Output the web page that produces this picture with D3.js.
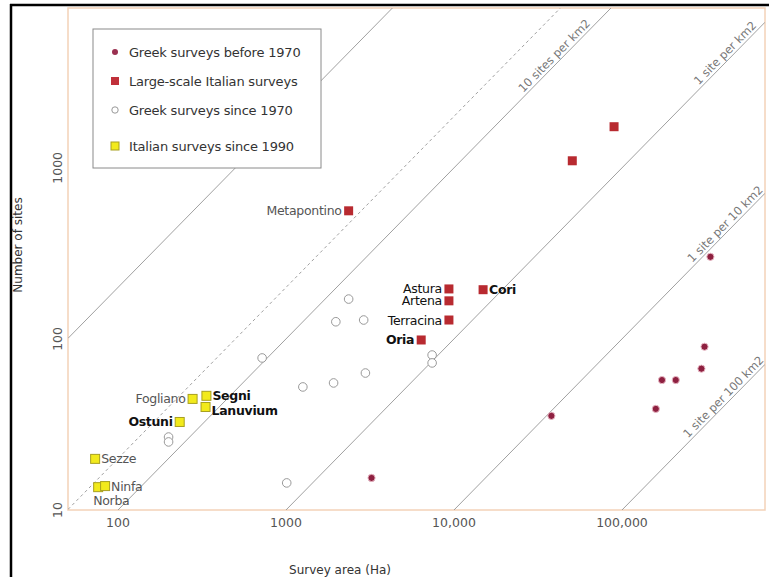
<!DOCTYPE html>
<html lang="en">
<head>
  <meta charset="UTF-8">
  <script src="https://d3js.org/d3.v7.min.js"></script>
  <title>Survey area vs number of sites</title>
  <style>
    body { margin: 0; background: #fff; }
    svg text { font-family: "DejaVu Sans", sans-serif; }
  </style>
</head>
<body>

  <svg id="chart" width="769" height="577"></svg>

  <script>

    // Survey area (Ha) and number of sites
    var greekOldArea  = [336000, 310000, 297000, 173000, 209000, 159000, 38000, 3230];
    var greekOldSites = [302, 90, 67, 57.5, 57.5, 39, 35.5, 15.4];

    var italianLargeNames = ["Metapontino", "Astura", "Artena", "Terracina", "Oria", "Cori", "", ""];
    var italianLargeArea  = [2360, 9330, 9330, 9330, 6380, 14900, 50600, 89700];
    var italianLargeSites = [561, 196, 167, 129, 98.6, 194, 1100, 1740];

    var greekNewArea  = [2360, 1980, 2900, 721, 7410, 7410, 2970, 1260, 1920, 200, 200, 1010];
    var greekNewSites = [171, 126, 129, 77.4, 80.5, 72.4, 63.2, 52.4, 55.3, 26.7, 25, 14.4];

    var italianNewNames = ["Fogliano", "Segni", "Lanuvium", "Ostuni", "Sezze", "Norba", "Ninfa"];
    var italianNewArea  = [278, 336, 332, 233, 73.1, 76.2, 83.8];
    var italianNewSites = [44.6, 46.5, 40, 32.7, 19.9, 13.6, 13.8];

    var xTicks = [100, 1000, 10000, 100000];
    var xTickLabels = ["100", "1000", "10,000", "100,000"];
    var yTicks = [10, 100, 1000];
    var yTickLabels = ["10", "100", "1000"];

    // reference densities in sites per hectare
    var densityRatio  = [2, 0.2, 0.1, 0.01, 0.001, 0.0001];
    var densityLabel  = ["", "", "10 sites per km2", "1 site per km2", "1 site per 10 km2", "1 site per 100 km2"];
    var densityDashed = [false, true, false, false, false, false];
    var densityLabelArea = [0, 0, 42300, 440000, 440000, 430000];

    var legendLabels = ["Greek surveys before 1970", "Large-scale Italian surveys",
                        "Greek surveys since 1970", "Italian surveys since 1990"];

    // how each place name sits next to its marker
    var labelStyle = {
      "Metapontino": {side: "left",  bold: false, color: "#555"},
      "Astura":      {side: "left",  bold: false, color: "#111"},
      "Artena":      {side: "left",  bold: false, color: "#111"},
      "Terracina":   {side: "left",  bold: false, color: "#111"},
      "Oria":        {side: "left",  bold: true,  color: "#111"},
      "Cori":        {side: "right", bold: true,  color: "#111"},
      "Fogliano":    {side: "left",  bold: false, color: "#555"},
      "Segni":       {side: "right", bold: true,  color: "#111"},
      "Lanuvium":    {side: "right", bold: true,  color: "#111", dy: 3},
      "Ostuni":      {side: "left",  bold: true,  color: "#111"},
      "Sezze":       {side: "right", bold: false, color: "#555"},
      "Ninfa":       {side: "right", bold: false, color: "#555"},
      "Norba":       {side: "below", bold: false, color: "#555"}
    };

    var svg = d3.select("#chart");
    var plot = {left: 68, right: 765, top: 8, bottom: 510};

    var x = d3.scaleLog().domain([50.4, 710000]).range([plot.left, plot.right]);
    var y = d3.scaleLog().domain([10, 8600]).range([plot.bottom, plot.top]);

    // black frame (top and left only)
    svg.append("line").attr("x1", 10).attr("x2", 769).attr("y1", 5).attr("y2", 5)
      .attr("stroke", "#000").attr("stroke-width", 2.5);
    svg.append("line").attr("x1", 11).attr("x2", 11).attr("y1", 4).attr("y2", 577)
      .attr("stroke", "#000").attr("stroke-width", 2.5);

    // plot area border
    svg.append("rect")
      .attr("x", plot.left).attr("y", plot.top)
      .attr("width", plot.right - plot.left).attr("height", plot.bottom - plot.top)
      .attr("fill", "#fff").attr("stroke", "#f3d2b8").attr("stroke-width", 1.5);

    svg.append("clipPath").attr("id", "clip")
      .append("rect")
      .attr("x", plot.left).attr("y", plot.top)
      .attr("width", plot.right - plot.left).attr("height", plot.bottom - plot.top);

    // density lines
    var lines = svg.append("g").attr("clip-path", "url(#clip)");
    densityRatio.forEach(function(r, i) {
      var a0 = x.domain()[0], a1 = x.domain()[1];
      lines.append("line")
        .attr("x1", x(a0)).attr("y1", y(a0 * r))
        .attr("x2", x(a1)).attr("y2", y(a1 * r))
        .attr("stroke", "#a0a0a0").attr("stroke-width", 1)
        .attr("stroke-dasharray", densityDashed[i] ? "3,3" : null);
    });

    var angle = Math.atan2(y(10) - y(1), x(10) - x(1)) * 180 / Math.PI;
    densityLabel.forEach(function(t, i) {
      if (!t) return;
      var a = densityLabelArea[i];
      svg.append("text")
        .attr("transform", "translate(" + x(a) + "," + y(a * densityRatio[i]) + ") rotate(" + angle + ")")
        .attr("dy", -3)
        .attr("text-anchor", "middle")
        .attr("font-size", 11.5)
        .attr("fill", "#777")
        .text(t);
    });

    // axis tick labels
    svg.append("g").selectAll("text")
      .data(xTicks).enter().append("text")
        .attr("x", function(d) { return x(d); })
        .attr("y", 527)
        .attr("text-anchor", "middle")
        .attr("font-size", 12.5)
        .attr("fill", "#555")
        .text(function(d, i) { return xTickLabels[i]; });

    svg.append("g").selectAll("text")
      .data(yTicks).enter().append("text")
        .attr("transform", function(d) { return "translate(62," + y(d) + ") rotate(-90)"; })
        .attr("text-anchor", "middle")
        .attr("font-size", 12.5)
        .attr("fill", "#555")
        .text(function(d, i) { return yTickLabels[i]; });

    svg.append("text")
      .attr("x", 340).attr("y", 574)
      .attr("text-anchor", "middle")
      .attr("font-size", 12)
      .attr("fill", "#333")
      .text("Survey area (Ha)");

    svg.append("text")
      .attr("transform", "translate(22,245) rotate(-90)")
      .attr("text-anchor", "middle")
      .attr("font-size", 12)
      .attr("fill", "#333")
      .text("Number of sites");

    // markers
    var marks = svg.append("g");

    marks.selectAll(".greek-new")
      .data(d3.range(greekNewArea.length)).enter().append("circle")
        .attr("class", "greek-new")
        .attr("cx", function(i) { return x(greekNewArea[i]); })
        .attr("cy", function(i) { return y(greekNewSites[i]); })
        .attr("r", 4.3)
        .attr("fill", "#fff").attr("stroke", "#999").attr("stroke-width", 1);

    marks.selectAll(".greek-old")
      .data(d3.range(greekOldArea.length)).enter().append("circle")
        .attr("class", "greek-old")
        .attr("cx", function(i) { return x(greekOldArea[i]); })
        .attr("cy", function(i) { return y(greekOldSites[i]); })
        .attr("r", 3.6)
        .attr("fill", "#8e2040").attr("stroke", "#e8b8c4").attr("stroke-width", 1);

    var sq = 9;
    marks.selectAll(".ital-large")
      .data(d3.range(italianLargeArea.length)).enter().append("rect")
        .attr("class", "ital-large")
        .attr("x", function(i) { return x(italianLargeArea[i]) - sq / 2; })
        .attr("y", function(i) { return y(italianLargeSites[i]) - sq / 2; })
        .attr("width", sq).attr("height", sq)
        .attr("fill", "#b82a30");

    marks.selectAll(".ital-new")
      .data(d3.range(italianNewArea.length)).enter().append("rect")
        .attr("class", "ital-new")
        .attr("x", function(i) { return x(italianNewArea[i]) - sq / 2; })
        .attr("y", function(i) { return y(italianNewSites[i]) - sq / 2; })
        .attr("width", sq).attr("height", sq)
        .attr("fill", "#f2ea1c").attr("stroke", "#a8a020").attr("stroke-width", 1);

    // place names
    function addLabels(names, areas, sites) {
      names.forEach(function(n, i) {
        if (!n) return;
        var s = labelStyle[n];
        var px = x(areas[i]), py = y(sites[i]);
        var t = svg.append("text")
          .attr("font-size", 12.5)
          .attr("font-weight", s.bold ? "bold" : "normal")
          .attr("fill", s.color)
          .attr("letter-spacing", -0.3)
          .text(n);
        if (s.side === "left") {
          t.attr("x", px - 7).attr("y", py + 4.5 + (s.dy || 0)).attr("text-anchor", "end");
        } else if (s.side === "right") {
          t.attr("x", px + 6).attr("y", py + 4.5 + (s.dy || 0)).attr("text-anchor", "start");
        } else {
          t.attr("x", px - 5).attr("y", py + 18).attr("text-anchor", "start");
        }
      });
    }
    addLabels(italianLargeNames, italianLargeArea, italianLargeSites);
    addLabels(italianNewNames, italianNewArea, italianNewSites);

    // legend
    var legend = svg.append("g");
    legend.append("rect")
      .attr("x", 93).attr("y", 29).attr("width", 228).attr("height", 139)
      .attr("fill", "#fff").attr("stroke", "#8a8a8a").attr("stroke-width", 1);

    var rowY = [52, 81, 110, 146];
    legend.append("circle").attr("cx", 115).attr("cy", rowY[0]).attr("r", 3)
      .attr("fill", "#9a3050");
    legend.append("rect").attr("x", 111).attr("y", rowY[1] - 4).attr("width", 8).attr("height", 8)
      .attr("fill", "#c0303a");
    legend.append("circle").attr("cx", 115).attr("cy", rowY[2]).attr("r", 3.2)
      .attr("fill", "#fff").attr("stroke", "#999");
    legend.append("rect").attr("x", 111).attr("y", rowY[3] - 4).attr("width", 8).attr("height", 8)
      .attr("fill", "#f2ea1c").attr("stroke", "#a8a020");

    legend.selectAll(".leg-text")
      .data(legendLabels).enter().append("text")
        .attr("class", "leg-text")
        .attr("x", 129)
        .attr("y", function(d, i) { return rowY[i] + 4.5; })
        .attr("font-size", 13)
        .attr("fill", "#333")
        .attr("letter-spacing", -0.2)
        .text(function(d) { return d; });

  </script>

</body>
</html>
